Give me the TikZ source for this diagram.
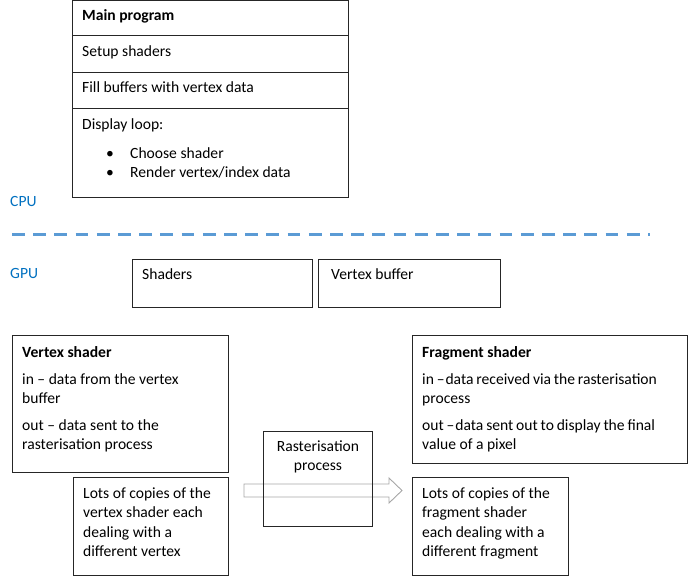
\documentclass[tikz,border=0pt]{standalone}
\usepackage{fontspec}
\setmainfont{Carlito}
\definecolor{cpublue}{HTML}{0070C0}
\definecolor{dashblue}{HTML}{5B9BD5}
\definecolor{arrgray}{HTML}{A6A6A6}
\newcommand{\tightsp}{\spaceskip=0.8\fontdimen2\font plus 0pt minus 0pt\relax}
\begin{document}
\begin{tikzpicture}[x=1pt,y=-1pt,
  box/.style={draw=black!85, line width=0.9pt, anchor=north west, inner sep=0pt},
  txt/.style={anchor=base west, inner sep=0pt, font=\fontsize{15.6}{19}\selectfont},
  ctxt/.style={anchor=base, inner sep=0pt, font=\fontsize{15.6}{19}\selectfont},
  lbl/.style={anchor=base west, inner sep=0pt, text=cpublue, font=\fontsize{15.6}{19}\selectfont}]
\useasboundingbox (0,0) rectangle (694,578);
% main program
\node[box, minimum width=276pt, minimum height=35pt] (mp1) at (72,0.5) {};
\node[box, minimum width=276pt, minimum height=36.5pt] (mp2) at (72,35.5) {};
\node[box, minimum width=276pt, minimum height=36pt] (mp3) at (72,72) {};
\node[box, minimum width=276pt, minimum height=89pt] (mp4) at (72,108) {};
\node[txt] (t1) at (82,21) {\bfseries Main program};
\node[txt] (t2) at (82,57) {Setup shaders};
\node[txt] (t3) at (82,92.5) {Fill buffers with vertex data};
\node[txt] (t4) at (82,129) {Display loop:};
\node[txt] (b1) at (106,158) {\textbullet};
\node[txt] (t5) at (130,158) {Choose shader};
\node[txt] (b2) at (106,177.5) {\textbullet};
\node[txt] (t6) at (130,177.5) {Render vertex/index data};
% CPU / GPU
\node[lbl] (cpu) at (10,206) {CPU};
\node[lbl] (gpu) at (10,278) {GPU};
\coordinate (dl) at (12,234.3);
\coordinate (dr) at (650,234.3);
\draw[dashblue, line width=3pt, dash pattern=on 12.7pt off 8.5pt] (dl) -- (dr);
% shaders / vertex buffer
\node[box, minimum width=180pt, minimum height=48pt] (sh) at (132,259) {};
\node[txt] (sht) at (142,279) {Shaders};
\node[box, minimum width=182pt, minimum height=48pt] (vb) at (318,259) {};
\node[txt] (vbt) at (331,279) {Vertex buffer};
% vertex shader
\node[box, minimum width=216pt, minimum height=137pt] (vs) at (12,335) {};
\node[txt] (vs1) at (22,357) {\bfseries Vertex shader};
\node[txt] (vs2) at (22,384) {in -- data from the vertex};
\node[txt] (vs3) at (22,403) {buffer};
\node[txt] (vs4) at (22,430.5) {out -- data sent to the};
\node[txt] (vs5) at (22,449.5) {rasterisation process};
\node[box, minimum width=155pt, minimum height=98pt] (vc) at (73,477) {};
\node[txt] (vc1) at (83,498) {Lots of copies of the};
\node[txt] (vc2) at (83,517.5) {vertex shader each};
\node[txt] (vc3) at (83,537) {dealing with a};
\node[txt] (vc4) at (83,556.5) {different vertex};
% rasterisation
\coordinate (a0) at (244,484);
\coordinate (a1) at (389,484);
\coordinate (a2) at (389,478);
\coordinate (a3) at (402,490.5);
\coordinate (a4) at (389,503);
\coordinate (a5) at (389,497);
\coordinate (a6) at (244,497);
\draw[arrgray, line width=0.9pt] (a0) -- (a1) -- (a2) -- (a3) -- (a4) -- (a5) -- (a6) -- cycle;
\node[box, minimum width=109pt, minimum height=95pt] (rp) at (263,431) {};
\node[ctxt] (rp1) at (318,451) {Rasterisation};
\node[ctxt] (rp2) at (318,470) {process};
% fragment shader
\node[box, minimum width=275pt, minimum height=128pt] (fs) at (412,335) {};
\node[txt] (fs1) at (422,357) {\bfseries Fragment shader};
\node[txt] (fs2) at (422,384) {\tightsp in --\kern1pt data received via the rasterisation};
\node[txt] (fs3) at (422,403) {process};
\node[txt] (fs4) at (422,430.5) {\tightsp out --\kern1pt data sent out to display the final};
\node[txt] (fs5) at (422,449.5) {value of a pixel};
\node[box, minimum width=156pt, minimum height=98pt] (fc) at (412,477) {};
\node[txt] (fc1) at (422,498) {Lots of copies of the};
\node[txt] (fc2) at (422,517.5) {fragment shader};
\node[txt] (fc3) at (422,537) {each dealing with a};
\node[txt] (fc4) at (422,556.5) {different fragment};
\end{tikzpicture}
\end{document}
